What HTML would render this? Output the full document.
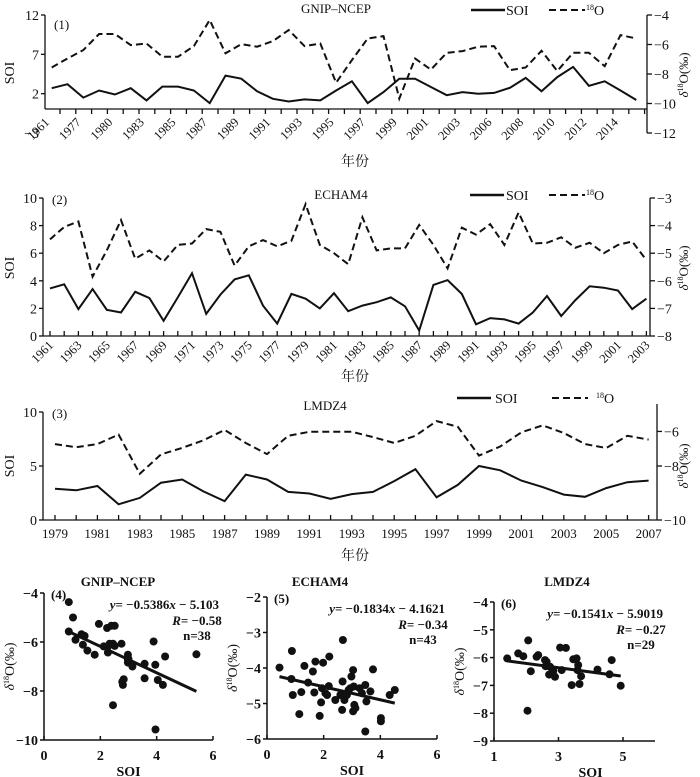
<!DOCTYPE html>
<html><head><meta charset="utf-8">
<style>
html,body{margin:0;padding:0;background:#fff;}
svg{display:block;font-family:"Liberation Serif","Noto Serif CJK SC",serif;}
</style></head>
<body>
<svg id="c" width="700" height="777" viewBox="0 0 700 777" xmlns="http://www.w3.org/2000/svg"></svg>
<script>
// ---- Panel 1 data (GNIP-NCEP) ----
const p1Labels = ["1961","1977","1980","1983","1985","1987","1989","1991","1993","1995","1997","1999","2001","2003","2006","2008","2010","2012","2014"];
const p1Soi = [2.7,3.2,1.5,2.4,1.9,2.7,1.15,2.9,2.9,2.4,0.8,4.3,3.9,2.3,1.35,1.0,1.27,1.15,2.4,3.57,0.8,2.2,3.9,3.9,2.85,1.8,2.2,2.0,2.1,2.75,4.0,2.3,4.1,5.4,3.0,3.57,2.4,1.2];
const p1D18 = [-7.56,-6.95,-6.38,-5.29,-5.29,-6.04,-5.93,-6.83,-6.83,-6.11,-4.34,-6.6,-5.97,-6.15,-5.77,-5.02,-6.11,-5.93,-8.6,-7.06,-5.59,-5.43,-9.67,-6.95,-7.7,-6.56,-6.45,-6.15,-6.11,-7.74,-7.56,-6.43,-7.8,-6.56,-6.56,-7.47,-5.36,-5.59];
const p1LeftTicks = [12,7,2,-3];
const p1RightTicks = [-4,-6,-8,-10,-12];
// ---- Panel 2 data (ECHAM4) ----
const p2Years = [];
for (let y = 1961; y <= 2003; y++) p2Years.push(y);
const p2Soi = [3.45,3.75,1.95,3.4,1.9,1.7,3.2,2.75,1.1,2.8,4.55,1.6,3.0,4.1,4.4,2.2,0.9,3.05,2.7,2.0,3.1,1.8,2.2,2.45,2.8,2.15,0.4,3.7,4.05,3.05,0.85,1.3,1.2,0.9,1.7,2.9,1.45,2.6,3.6,3.5,3.3,1.95,2.7];
const p2D18 = [-4.5,-4.05,-3.85,-5.85,-4.9,-3.8,-5.2,-4.9,-5.3,-4.7,-4.65,-4.125,-4.225,-5.45,-4.75,-4.525,-4.75,-4.55,-3.225,-4.7,-5.0,-5.4,-3.7,-4.9,-4.825,-4.825,-3.975,-4.7,-5.55,-4.075,-4.325,-3.95,-4.7,-3.525,-4.65,-4.625,-4.425,-4.8,-4.625,-5.0,-4.7,-4.575,-5.25];
const p2LeftTicks = [0,2,4,6,8,10];
const p2RightTicks = [-3,-4,-5,-6,-7,-8];
// ---- Panel 3 data (LMDZ4) ----
const p3Years = [];
for (let y = 1979; y <= 2007; y++) p3Years.push(y);
const p3Soi = [2.9,2.75,3.15,1.45,2.05,3.45,3.75,2.65,1.75,4.2,3.75,2.6,2.45,1.95,2.4,2.6,3.6,4.7,2.1,3.25,5.0,4.6,3.65,3.05,2.35,2.15,2.95,3.5,3.65];
const p3D18 = [-6.73,-6.91,-6.73,-6.18,-8.45,-7.33,-6.95,-6.51,-5.91,-6.67,-7.31,-6.25,-6.02,-6.02,-6.02,-6.33,-6.67,-6.25,-5.4,-5.73,-7.4,-6.87,-6.05,-5.65,-6.09,-6.73,-6.96,-6.25,-6.47];
const p3LeftTicks = [0,5,10];
const p3RightTicks = [-6,-8];
// ---- Scatter data ----
const s4X = [0.88,0.88,1.03,1.12,1.33,1.44,1.38,1.54,1.8,1.95,2.12,2.24,2.27,2.27,2.39,2.51,2.51,2.45,2.33,2.75,2.98,2.98,2.98,3.14,2.78,2.8,2.83,2.45,3.57,3.57,3.89,3.95,4.04,3.96,4.22,4.3,5.41,3.0];
const s4Y = [-4.37,-5.57,-5.0,-5.91,-5.68,-5.75,-6.11,-6.35,-6.52,-5.26,-6.18,-5.43,-6.18,-6.43,-5.34,-5.34,-6.16,-6.07,-6.07,-6.07,-6.73,-6.52,-6.84,-7.0,-7.62,-7.75,-7.52,-8.58,-6.89,-7.48,-5.98,-6.93,-7.55,-9.57,-7.75,-6.59,-6.5,-6.7];
const s5X = [0.44,0.88,0.86,0.91,1.14,1.21,1.32,1.45,1.62,1.71,1.67,1.86,1.91,1.98,1.94,2.06,2.12,2.2,2.18,2.41,2.59,2.65,2.67,2.68,2.73,2.82,2.88,2.94,2.98,3.04,3.06,3.08,3.12,3.04,3.27,3.35,3.47,3.47,3.51,3.65,3.74,4.02,4.02,4.33,4.51];
const s5Y = [-3.99,-3.52,-4.31,-4.76,-5.3,-4.68,-3.94,-4.41,-4.1,-3.82,-4.69,-5.35,-4.97,-3.85,-4.57,-4.71,-4.76,-3.68,-4.51,-4.9,-4.76,-5.18,-4.38,-3.21,-4.9,-4.76,-4.62,-4.57,-4.24,-4.06,-4.52,-5.04,-5.13,-5.22,-4.57,-4.71,-5.79,-4.48,-4.94,-4.66,-4.04,-5.41,-5.5,-4.76,-4.62];
const s6X = [1.41,1.75,1.91,2.06,2.14,2.32,2.37,2.58,2.6,2.63,2.71,2.84,2.89,3.05,3.1,3.23,3.41,3.46,3.56,3.59,3.61,3.65,3.7,4.21,4.58,4.65,4.93,2.04,2.74];
const s6Y = [-6.03,-5.85,-5.95,-5.38,-6.49,-5.97,-5.91,-6.09,-6.31,-6.15,-6.61,-6.48,-6.69,-5.64,-6.45,-5.65,-6.99,-6.06,-6.03,-6.45,-6.27,-6.95,-6.67,-6.43,-6.6,-6.09,-7.01,-7.91,-6.33];
const s4Fit = [-0.5386,-5.103];
const s5Fit = [-0.1834,-4.1621];
const s6Fit = [-0.1541,-5.9019];

const NS = "http://www.w3.org/2000/svg";
const svg = document.getElementById('c');
function mk(tag, attrs, parent) {
  const e = document.createElementNS(NS, tag);
  for (const k in attrs) e.setAttribute(k, attrs[k]);
  (parent || svg).appendChild(e);
  return e;
}
function txt(x, y, s, size, anchor, extra, parent) {
  const e = mk('text', Object.assign({x: x, y: y, 'font-size': size, 'text-anchor': anchor || 'start', fill: '#111'}, extra || {}), parent);
  e.textContent = s;
  return e;
}
function lin(x1,y1,x2,y2,w,parent){ return mk('line',{x1:x1,y1:y1,x2:x2,y2:y2,stroke:'#111','stroke-width':w||1.3},parent); }
function lineScale(d0,d1,r0,r1){ return v => r0 + (v-d0)*(r1-r0)/(d1-d0); }
function poly(xs, ys, dashed, parent) {
  const p = xs.map((x,i)=>x.toFixed(1)+','+ys[i].toFixed(1)).join(' ');
  const a = {points:p, fill:'none', stroke:'#111', 'stroke-width': 2, 'stroke-linejoin':'miter'};
  if (dashed) a['stroke-dasharray'] = '7,4';
  return mk('polyline', a, parent);
}
function legend(g, x1, y, sx, dx, dtx) {
  const l1 = lin(x1, y, x1+34, y, 2.4, g);
  
  
  const t1 = txt(sx, y+5, 'SOI', 14, 'start', {}, g);
  
  
  const l2 = mk('line',{x1:dx,y1:y,x2:dx+36,y2:y,stroke:'#111','stroke-width':2,'stroke-dasharray':'7,4'},g);
  
  
  const t2 = mk('text',{x:dtx,y:y+5,'font-size':14,fill:'#111'},g);
  t2.innerHTML = '<tspan font-size="8" dy="-5">18</tspan><tspan dy="5">O</tspan>';
  
  
}
function rightLabel(g, x, y) {
  const t = mk('text',{x:0,y:0,'font-size':13,fill:'#111','text-anchor':'middle',transform:'translate('+x+','+y+') rotate(-90)'},g);
  t.innerHTML = '<tspan font-style="italic">δ</tspan><tspan font-size="8" dy="-5">18</tspan><tspan dy="5">O(‰)</tspan>';
  
  
}
function leftLabel(g, x, y) {
  const t = mk('text',{x:0,y:0,'font-size':14,fill:'#111','text-anchor':'middle',transform:'translate('+x+','+y+') rotate(-90)'},g);
  t.textContent = 'SOI';
  
  
}

// ===== Panel 1 =====
(function(){
  const g = mk('g',{});
  
  
  const L=45, R=647, T=15, B=133, AX=109;
  const y = lineScale(-3,12,B,T);
  const yr = lineScale(-12,-4,B,T);
  const x = i => 51.7 + i*15.8;
  lin(L,T,L,AX,1.3,g); lin(L,AX,R,AX,1.3,g); lin(R,T,R,B,1.3,g);
  p1LeftTicks.forEach(v=>{ if(v>=0) lin(L-4,y(v),L,y(v),1.3,g); const t=txt(L-6,y(v)+5,String(v).replace('-','−'),14,'end',{},g);   });
  p1RightTicks.forEach(v=>{ lin(R,yr(v),R+5,yr(v),1.3,g); const t=txt(R+7,yr(v)+5,String(v).replace('-','−'),14,'start',{},g);   });
  for(let k=0;k<38;k++){ lin(60+k*15.8,AX,60+k*15.8,AX+5,1.3,g); }
  p1Labels.forEach((s,k)=>{ const t=txt(0,0,s,12.5,'end',{transform:'translate('+(50+31.6*k)+','+(123)+') rotate(-45)'},g);   });
  const xs = p1Soi.map((v,i)=>x(i));
  const s = poly(xs, p1Soi.map(y), false, g);
  
  
  const d = poly(xs, p1D18.map(yr), true, g);
  
  
  const ti = txt(336,13,'GNIP–NCEP',13,'middle',{},g);
  
  
  const pl = txt(54,29,'(1)',13,'start',{},g);
  
  
  legend(g,471,10,506,549,586);
  leftLabel(g,14,73); rightLabel(g,688,75);
  const xt = txt(355,166,'年份',14,'middle',{'font-family':'"Noto Serif CJK SC",serif'},g);
  
  
})();

// ===== Panel 2 =====
(function(){
  const g = mk('g',{});
  
  
  const L=43, R=650, T=198, B=336;
  const y = lineScale(0,10,B,T);
  const yr = lineScale(-8,-3,B,T);
  const x = i => 50 + i*14.2;
  lin(L,T,L,B,1.3,g); lin(L,B,R,B,1.3,g); lin(R,T,R,B,1.3,g);
  p2LeftTicks.forEach(v=>{ lin(L-4,y(v),L,y(v),1.3,g); const t=txt(L-6,y(v)+5,String(v),14,'end',{},g);   });
  p2RightTicks.forEach(v=>{ lin(R,yr(v),R+5,yr(v),1.3,g); const t=txt(R+7,yr(v)+5,String(v).replace('-','−'),14,'start',{},g);   });
  p2Years.forEach((yy,i)=>{ lin(x(i),B,x(i),B-5,1.3,g); if(i%2===0){ const t=txt(0,0,String(yy),12.5,'end',{transform:'translate('+(x(i)+4)+','+(B+10)+') rotate(-45)'},g);   } });
  const xs = p2Soi.map((v,i)=>x(i));
  const s = poly(xs, p2Soi.map(y), false, g);
  
  
  const d = poly(xs, p2D18.map(yr), true, g);
  
  
  const ti = txt(341,199,'ECHAM4',13,'middle',{},g);
  
  
  const pl = txt(52,204,'(2)',13,'start',{},g);
  
  
  legend(g,470,195,506,549,586);
  leftLabel(g,14,268); rightLabel(g,688,268);
  const xt = txt(355,381,'年份',14,'middle',{'font-family':'"Noto Serif CJK SC",serif'},g);
  
  
})();

// ===== Panel 3 =====
(function(){
  const g = mk('g',{});
  
  
  const L=43, R=657, T=412, B=520;
  const y = lineScale(0,10,B,T);
  const yr = lineScale(-8,-6,y(5),y(8.2));
  const x = i => 55 + i*21.2;
  lin(L,T,L,B,1.3,g); lin(L,B,R,B,1.3,g); lin(R,404,R,B,1.3,g);
  p3LeftTicks.forEach(v=>{ lin(L-4,y(v),L,y(v),1.3,g); const t=txt(L-6,y(v)+5,String(v),14,'end',{},g);   });
  p3RightTicks.forEach(v=>{ lin(R,yr(v),R+5,yr(v),1.3,g); const t=txt(R+7,yr(v)+5,String(v).replace('-','−'),14,'start',{},g);   });
  lin(R,B,R+5,B,1.3,g);
  const tb=txt(R+7,B+5,'−10',14,'start',{},g);
  
  
  p3Years.forEach((yy,i)=>{ lin(x(i),B,x(i),B-5,1.3,g); if(i%2===0){ const t=txt(x(i),B+18,String(yy),13,'middle',{},g);   } });
  const xs = p3Soi.map((v,i)=>x(i));
  const s = poly(xs, p3Soi.map(y), false, g);
  
  
  const d = poly(xs, p3D18.map(yr), true, g);
  
  
  const ti = txt(325,410,'LMDZ4',13,'middle',{},g);
  
  
  const pl = txt(52,418,'(3)',13,'start',{},g);
  
  
  legend(g,457,398,495,552,596);
  leftLabel(g,14,466); rightLabel(g,688,466);
  const xt = txt(355,560,'年份',14,'middle',{'font-family':'"Noto Serif CJK SC",serif'},g);
  
  
})();

// ===== Scatter panels =====
function scatter(cfg){
  const g = mk('g',{});
  
  
  const x = lineScale(cfg.xd[0],cfg.xd[1],cfg.L,cfg.R);
  const y = lineScale(cfg.yd[0],cfg.yd[1],cfg.B,cfg.T);
  lin(cfg.L,cfg.T,cfg.L,cfg.B,1.5,g); lin(cfg.L,cfg.B,cfg.axR,cfg.B,1.5,g);
  cfg.yt.forEach(v=>{ lin(cfg.L-4,y(v),cfg.L,y(v),1.5,g); const t=txt(cfg.L-6,y(v)+5,String(v).replace('-','−'),14,'end',{'font-weight':'bold'},g);   });
  cfg.xt.forEach(v=>{ lin(x(v),cfg.B,x(v),cfg.B-4,1.5,g); const t=txt(x(v),cfg.B+20,String(v),14,'middle',{'font-weight':'bold'},g);   });
  cfg.xs.forEach((v,i)=>{
    const c = mk('circle',{cx:x(v).toFixed(1),cy:y(cfg.ys[i]).toFixed(1),r:4,fill:'#111'},g);
    
    
  });
  const x0 = Math.min(...cfg.xs), x1 = Math.max(...cfg.xs);
  const f = cfg.fit;
  const fl = lin(x(x0),y(f[0]*x0+f[1]),x(x1),y(f[0]*x1+f[1]),3,g);
  
  
  const ti = txt(cfg.titleX,586,cfg.title,13,'middle',{'font-weight':'bold'},g);
  
  
  const pl = txt(cfg.L+7,cfg.T+6,cfg.idx,13,'start',{'font-weight':'bold'},g);
  
  
  const eq = mk('text',{x:cfg.eqX,y:cfg.T+16,'font-size':13,'text-anchor':'end','font-weight':'bold',fill:'#111'},g);
  eq.innerHTML = '<tspan font-style="italic">y</tspan>= −'+Math.abs(f[0])+'<tspan font-style="italic">x</tspan> − '+Math.abs(f[1]);
  
  
  const rr = mk('text',{x:cfg.eqX-22,y:cfg.T+32,'font-size':13,'text-anchor':'middle','font-weight':'bold',fill:'#111'},g);
  rr.innerHTML = '<tspan font-style="italic">R</tspan>= −'+cfg.r;
  
  
  const nn = txt(cfg.eqX-22,cfg.T+47,'n='+cfg.n,13,'middle',{'font-weight':'bold'},g);
  
  
  const xl = txt((cfg.L+cfg.R)/2 - (cfg.soiShift||0),cfg.B+36,'SOI',14,'middle',{'font-weight':'bold'},g);
  
  
  const yl = mk('text',{x:0,y:0,'font-size':14,fill:'#111','text-anchor':'middle',transform:'translate('+(cfg.L-30)+','+((cfg.T+cfg.B)/2)+') rotate(-90)'},g);
  yl.innerHTML = '<tspan font-style="italic">δ</tspan><tspan font-size="8" dy="-5">18</tspan><tspan dy="5">O(‰)</tspan>';
  
  
}
scatter({name:'scatter-gnip-ncep',L:44,R:213,axR:213,T:593,B:740,xd:[0,6],yd:[-10,-4],xt:[0,2,4,6],yt:[-4,-6,-8,-10],xs:s4X,ys:s4Y,fit:s4Fit,title:'GNIP–NCEP',titleX:118,idx:'(4)',eqX:219,r:'0.58',n:38,soiShift:0});
scatter({name:'scatter-echam4',L:267,R:437,axR:437,T:597,B:739,xd:[0,6],yd:[-6,-2],xt:[0,2,4,6],yt:[-2,-3,-4,-5,-6],xs:s5X,ys:s5Y,fit:s5Fit,title:'ECHAM4',titleX:320,idx:'(5)',eqX:445,r:'0.34',n:43,soiShift:0});
scatter({name:'scatter-lmdz4',L:494,R:623,axR:655,T:602,B:741,xd:[1,5],yd:[-9,-4],xt:[1,3,5],yt:[-4,-5,-6,-7,-8,-9],xs:s6X,ys:s6Y,fit:s6Fit,title:'LMDZ4',titleX:567,idx:'(6)',eqX:663,r:'0.27',n:29,soiShift:-32});
</script>
</body></html>
